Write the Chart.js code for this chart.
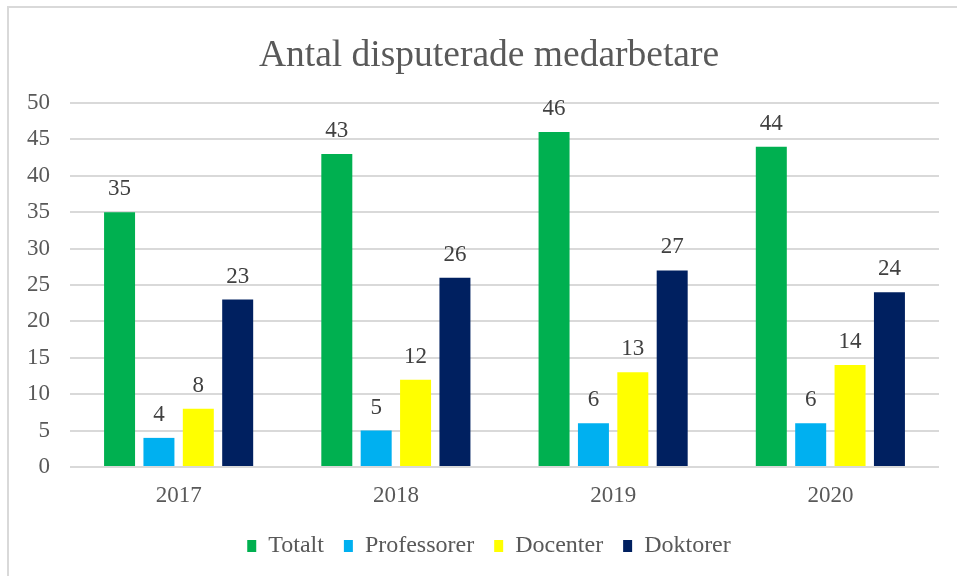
<!DOCTYPE html>
<html>
<head>
<meta charset="utf-8">
<script src="https://cdn.jsdelivr.net/npm/chart.js@4"></script>
<style>
  html, body { margin: 0; padding: 0; background: #fff; overflow: hidden; width: 957px; height: 576px; }
  #frame { position: absolute; left: 7px; top: 6px; width: 970px; height: 600px; border: 2px solid #d9d9d9; box-sizing: border-box; }
  #wrap { position: absolute; left: 10px; top: 8px; width: 958px; height: 568px; }
</style>
</head>
<body>
<div id="frame"></div>
<div id="wrap"><canvas id="chart"></canvas></div>
<script>
// data
const years = ['2017', '2018', '2019', '2020'];
const totalt = [35, 43, 46, 44];
const professorer = [4, 5, 6, 6];
const docenter = [8, 12, 13, 14];
const doktorer = [23, 26, 27, 24];
const yTicks = [0, 5, 10, 15, 20, 25, 30, 35, 40, 45, 50];

const FONT = "'Liberation Serif', 'Times New Roman', serif";

// siffror ovanför staplarna
const valueLabels = {
    id: 'valueLabels',
    afterDatasetsDraw(chart) {
        const ctx = chart.ctx;
        ctx.save();
        ctx.font = '23px ' + FONT;
        ctx.fillStyle = '#404040';
        ctx.textAlign = 'center';
        ctx.textBaseline = 'alphabetic';
        chart.data.datasets.forEach((ds, i) => {
            chart.getDatasetMeta(i).data.forEach((bar, j) => {
                ctx.fillText(ds.data[j], bar.x, bar.y - 17);
            });
        });
        ctx.restore();
    }
};

new Chart(document.getElementById('chart'), {
    type: 'bar',
    data: {
        labels: years,
        datasets: [
            { label: 'Totalt', data: totalt, backgroundColor: '#00B050' },
            { label: 'Professorer', data: professorer, backgroundColor: '#00B0F0' },
            { label: 'Docenter', data: docenter, backgroundColor: '#FFFF00' },
            { label: 'Doktorer', data: doktorer, backgroundColor: '#002060' }
        ]
    },
    options: {
        responsive: true,
        maintainAspectRatio: false,
        animation: false,
        datasets: { bar: { categoryPercentage: 0.725, barPercentage: 0.787 } },
        layout: { padding: { left: 0, right: 0, top: 0, bottom: 8 } },
        plugins: {
            title: {
                display: true,
                text: 'Antal disputerade medarbetare',
                color: '#595959',
                font: { family: FONT, size: 37.5, weight: 'normal' },
                padding: { top: 26, bottom: 24 }
            },
            legend: {
                position: 'bottom',
                labels: {
                    color: '#595959',
                    font: { family: FONT, size: 24 },
                    boxWidth: 9,
                    boxHeight: 12,
                    padding: 20
                }
            },
            tooltip: { enabled: false }
        },
        scales: {
            x: {
                grid: { display: false, drawTicks: false },
                border: { display: false },
                ticks: { color: '#595959', font: { family: FONT, size: 23 }, padding: 15 },
                afterFit(scale) { scale.height = 47; }
            },
            y: {
                min: 0,
                max: 50,
                afterBuildTicks(scale) { scale.ticks = yTicks.map(v => ({ value: v })); },
                grid: { color: '#d9d9d9', lineWidth: 2, drawTicks: false },
                border: { display: false },
                ticks: { color: '#595959', font: { family: FONT, size: 23 }, padding: 20 },
                afterFit(scale) { scale.width = 60; }
            },
            // tom axel till höger, bara för marginalen
            yRight: {
                position: 'right',
                grid: { display: false, drawTicks: false },
                border: { display: false },
                ticks: { display: false },
                afterFit(scale) { scale.width = 29; }
            }
        }
    },
    plugins: [valueLabels]
});
</script>
</body>
</html>
